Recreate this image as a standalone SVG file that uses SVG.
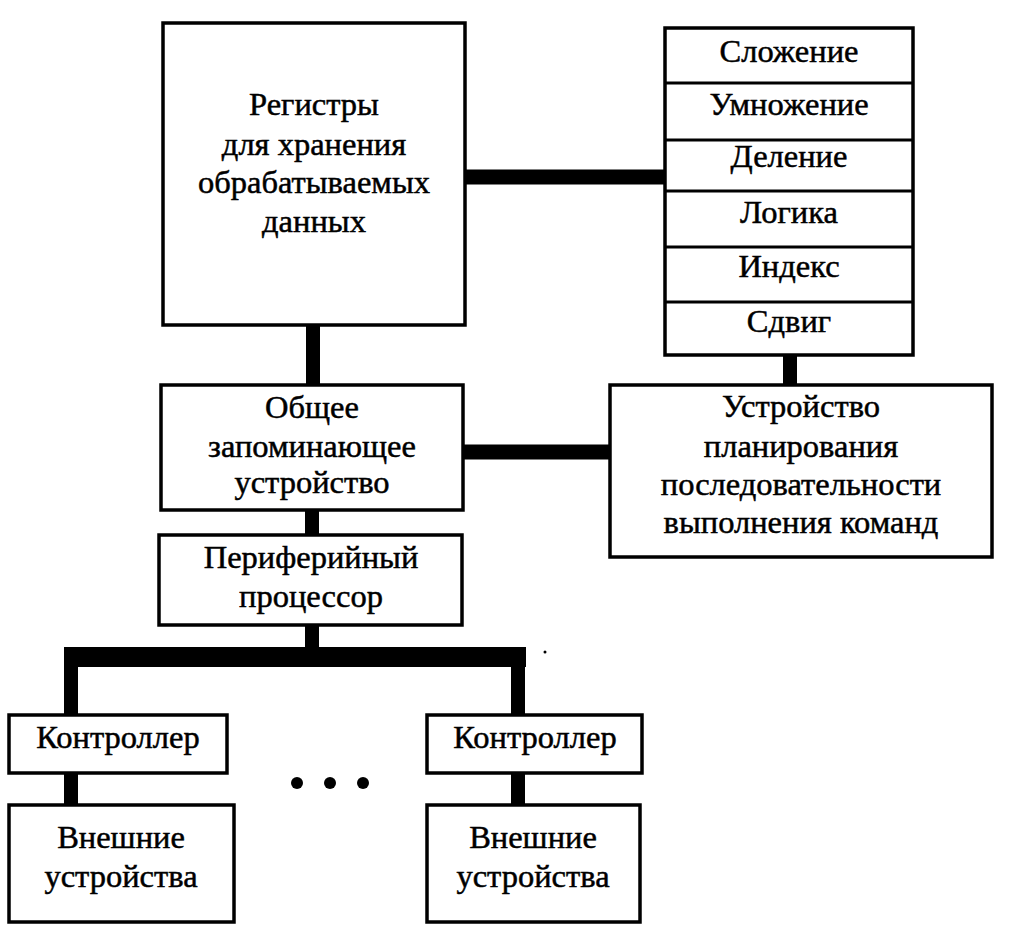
<svg xmlns="http://www.w3.org/2000/svg" width="1009" height="939" viewBox="0 0 1009 939">
<style>
  .box { fill: #fff; stroke: #000; stroke-width: 3.5; }
  .div { stroke: #000; stroke-width: 3; }
  .bar { stroke: #000; stroke-width: 14; fill: none; stroke-linecap: butt; }
  .bus { stroke: #000; stroke-width: 20; fill: none; }
  text { font-family: "Liberation Serif", "Times New Roman", serif; font-size: 32.5px; fill: #000; stroke: #000; stroke-width: 0.5; text-anchor: middle; }
</style>
<rect width="1009" height="939" fill="#fff"/>
<g id="connectors">
  <line class="bar" x1="465" y1="177" x2="665" y2="177" style="stroke-width:15"/>
  <line class="bar" x1="313" y1="325" x2="313" y2="385"/>
  <line class="bar" x1="790" y1="355" x2="790" y2="385"/>
  <line class="bar" x1="463" y1="452" x2="610" y2="452" style="stroke-width:15"/>
  <line class="bar" x1="312" y1="510" x2="312" y2="535"/>
  <line class="bar" x1="312" y1="625" x2="312" y2="650"/>
  <line class="bus" x1="64" y1="657" x2="526" y2="657"/>
  <line class="bar" x1="71" y1="657" x2="71" y2="715"/>
  <line class="bar" x1="518" y1="657" x2="518" y2="715"/>
  <line class="bar" x1="71" y1="773" x2="71" y2="805"/>
  <line class="bar" x1="518" y1="773" x2="518" y2="805"/>
</g>
<g id="registers">
  <rect class="box" x="163" y="23" width="302" height="302"/>
  <text x="314" y="115">Регистры</text>
  <text x="314" y="155">для хранения</text>
  <text x="314" y="193">обрабатываемых</text>
  <text x="314" y="232">данных</text>
</g>
<g id="alu">
  <rect class="box" x="665" y="28" width="248" height="327"/>
  <line class="div" x1="665" y1="83" x2="913" y2="83"/>
  <line class="div" x1="665" y1="140" x2="913" y2="140"/>
  <line class="div" x1="665" y1="191" x2="913" y2="191"/>
  <line class="div" x1="665" y1="247" x2="913" y2="247"/>
  <line class="div" x1="665" y1="302" x2="913" y2="302"/>
  <text x="789" y="62">Сложение</text>
  <text x="789" y="115">Умножение</text>
  <text x="789" y="167">Деление</text>
  <text x="789" y="223">Логика</text>
  <text x="789" y="277">Индекс</text>
  <text x="789" y="332">Сдвиг</text>
</g>
<g id="memory">
  <rect class="box" x="161" y="385" width="302" height="125"/>
  <text x="312" y="418">Общее</text>
  <text x="312" y="457">запоминающее</text>
  <text x="312" y="493">устройство</text>
</g>
<g id="scheduler">
  <rect class="box" x="610" y="385" width="382" height="172"/>
  <text x="801" y="417">Устройство</text>
  <text x="801" y="457">планирования</text>
  <text x="801" y="495">последовательности</text>
  <text x="801" y="533">выполнения команд</text>
</g>
<g id="peripheral">
  <rect class="box" x="159" y="535" width="303" height="90"/>
  <text x="311" y="568">Периферийный</text>
  <text x="311" y="607">процессор</text>
</g>
<g id="controller1">
  <rect class="box" x="9" y="715" width="218" height="58"/>
  <text x="118" y="748">Контроллер</text>
</g>
<g id="controller2">
  <rect class="box" x="427" y="715" width="215" height="58"/>
  <text x="535" y="748">Контроллер</text>
</g>
<g id="devices1">
  <rect class="box" x="9" y="805" width="225" height="117"/>
  <text x="121" y="848">Внешние</text>
  <text x="121" y="887">устройства</text>
</g>
<g id="devices2">
  <rect class="box" x="427" y="805" width="213" height="117"/>
  <text x="533" y="848">Внешние</text>
  <text x="533" y="887">устройства</text>
</g>
<g id="ellipsis">
  <circle cx="297" cy="783" r="6"/>
  <circle cx="330" cy="783" r="6"/>
  <circle cx="363" cy="783" r="6"/>
  <circle cx="545" cy="652" r="1.5"/>
</g>
</svg>
